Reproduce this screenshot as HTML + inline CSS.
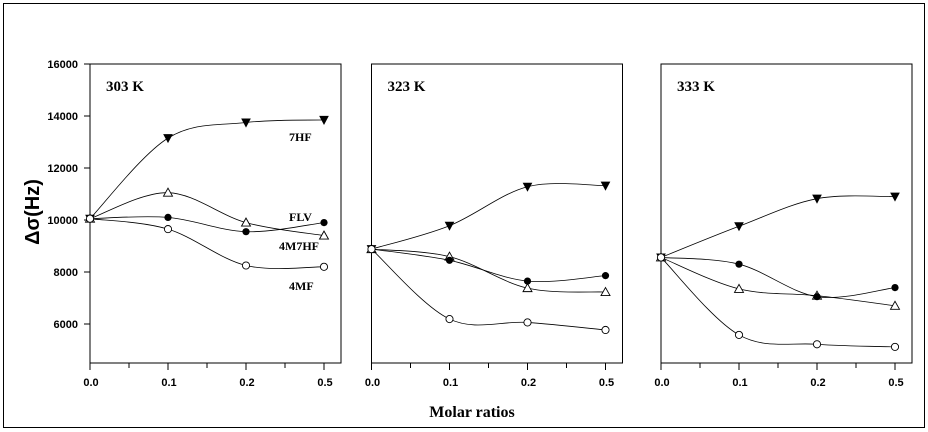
<!DOCTYPE html>
<html><head><meta charset="utf-8"><style>
html,body{margin:0;padding:0;background:#fff;}
svg{display:block;}
</style></head><body>
<svg id="chart" width="928" height="432" xmlns="http://www.w3.org/2000/svg">
<rect x="3.5" y="3.5" width="921" height="424" fill="none" stroke="#000" stroke-width="1"/>
<text transform="translate(39,212) rotate(-90)" text-anchor="middle" font-family="Liberation Sans, sans-serif" font-weight="bold" font-size="20">Δσ(Hz)</text>
<text x="472" y="417" text-anchor="middle" font-family="Liberation Serif, serif" font-weight="bold" font-size="16">Molar ratios</text>
<g id="plots"></g>
</svg>
<script>
const categories = ["0.0","0.1","0.2","0.5"];
const yTicks = [6000,8000,10000,12000,14000,16000];
const panelTitles = ["303 K","323 K","333 K"];
const seriesNames = ["7HF","4M7HF","FLV","4MF"];
const s303_7HF = [10050,13150,13750,13850];
const s303_4M7HF = [10050,11050,9900,9400];
const s303_FLV = [10050,10100,9550,9900];
const s303_4MF = [10050,9650,8250,8200];
const s323_7HF = [8880,9780,11280,11320];
const s323_4M7HF = [8880,8590,7380,7230];
const s323_FLV = [8880,8450,7650,7860];
const s323_4MF = [8880,6190,6060,5770];
const s333_7HF = [8560,9760,10820,10900];
const s333_4M7HF = [8560,7350,7090,6700];
const s333_FLV = [8560,8300,7050,7400];
const s333_4MF = [8560,5580,5220,5120];
const panelData = [
  [s303_7HF,s303_4M7HF,s303_FLV,s303_4MF],
  [s323_7HF,s323_4M7HF,s323_FLV,s323_4MF],
  [s333_7HF,s333_4M7HF,s333_FLV,s333_4MF]
];
const NS="http://www.w3.org/2000/svg";
const root=document.getElementById('plots');
function el(tag,attrs,parent){const e=document.createElementNS(NS,tag);for(const k in attrs)e.setAttribute(k,attrs[k]);(parent||root).appendChild(e);return e;}
const panelLeft=[90,371.5,661], panelW=251, plotTop=64, plotBottom=363;
const yMin=4500,yMax=16000;
function yScale(v){return plotTop+(yMax-v)/(yMax-yMin)*(plotBottom-plotTop);}
function xScale(p,i){return panelLeft[p]+i*78;}
function spline(pts){
  let d="M"+pts[0][0]+","+pts[0][1];
  for(let i=0;i<pts.length-1;i++){
    const p0=pts[i-1]||pts[i],p1=pts[i],p2=pts[i+1],p3=pts[i+2]||p2;
    const c1=[p1[0]+(p2[0]-p0[0])/6,p1[1]+(p2[1]-p0[1])/6];
    const c2=[p2[0]-(p3[0]-p1[0])/6,p2[1]-(p3[1]-p1[1])/6];
    d+=" C"+c1+" "+c2+" "+p2;
  }
  return d;
}
const markers=["tri-down","tri-open","circle-filled","circle-open"];
for(let p=0;p<3;p++){
  const g=el('g',{});
  
  
  const L=panelLeft[p];
  const fr=el('rect',{x:L,y:plotTop,width:panelW,height:plotBottom-plotTop,fill:'none',stroke:'#000','stroke-width':1},g);
  
  
  const t=el('text',{x:L+16,y:plotTop+27,'font-family':'Liberation Serif, serif','font-weight':'bold','font-size':15},g);
  t.textContent=panelTitles[p];
  
  
  for(let i=0;i<categories.length;i++){
    const x=xScale(p,i);
    el('line',{x1:x,y1:plotBottom,x2:x,y2:plotBottom+7,stroke:'#000'},g);
    if(i<categories.length-1) el('line',{x1:x+39,y1:plotBottom,x2:x+39,y2:plotBottom+5,stroke:'#000'},g);
    const tl=el('text',{x:x+1,y:plotBottom+23,'text-anchor':'middle','font-family':'Liberation Sans, sans-serif','font-weight':'bold','font-size':11},g);
    tl.textContent=categories[i];
    
    
  }
  if(p===0){
    for(const v of yTicks){
      const y=yScale(v);
      el('line',{x1:L-6,y1:y,x2:L,y2:y,stroke:'#000'},g);
      const yl=el('text',{x:L-12,y:y+4,'text-anchor':'end','font-family':'Liberation Sans, sans-serif','font-weight':'bold','font-size':11},g);
      yl.textContent=v;
      
      
    }
  }
  panelData[p].forEach((vals,si)=>{
    const pts=vals.map((v,i)=>[xScale(p,i),yScale(v)]);
    const path=el('path',{d:spline(pts),fill:'none',stroke:'#000','stroke-width':0.8},g);
    
    
    pts.forEach(([x,y])=>{
      let m;
      const mk=markers[si];
      if(mk==="tri-down") m=el('polygon',{points:`${x-4},${y-3.5} ${x+4},${y-3.5} ${x},${y+4}`,fill:'#000',stroke:'#000'},g);
      else if(mk==="tri-open") m=el('polygon',{points:`${x-4.5},${y+3.5} ${x+4.5},${y+3.5} ${x},${y-4.5}`,fill:'#fff',stroke:'#000','stroke-width':0.9},g);
      else if(mk==="circle-filled") m=el('circle',{cx:x,cy:y,r:3.6,fill:'#000'},g);
      else m=el('circle',{cx:x,cy:y,r:3.6,fill:'#fff',stroke:'#000','stroke-width':0.9},g);
      
      
    });
  });
}
const lbls=[["7HF",289,141],["FLV",289,221],["4M7HF",279,250],["4MF",289,290]];
for(const [txt,x,y] of lbls){
  const t=el('text',{x:x,y:y,'font-family':'Liberation Serif, serif','font-weight':'bold','font-size':12});
  t.textContent=txt;
  
  
}
</script>
</body></html>
